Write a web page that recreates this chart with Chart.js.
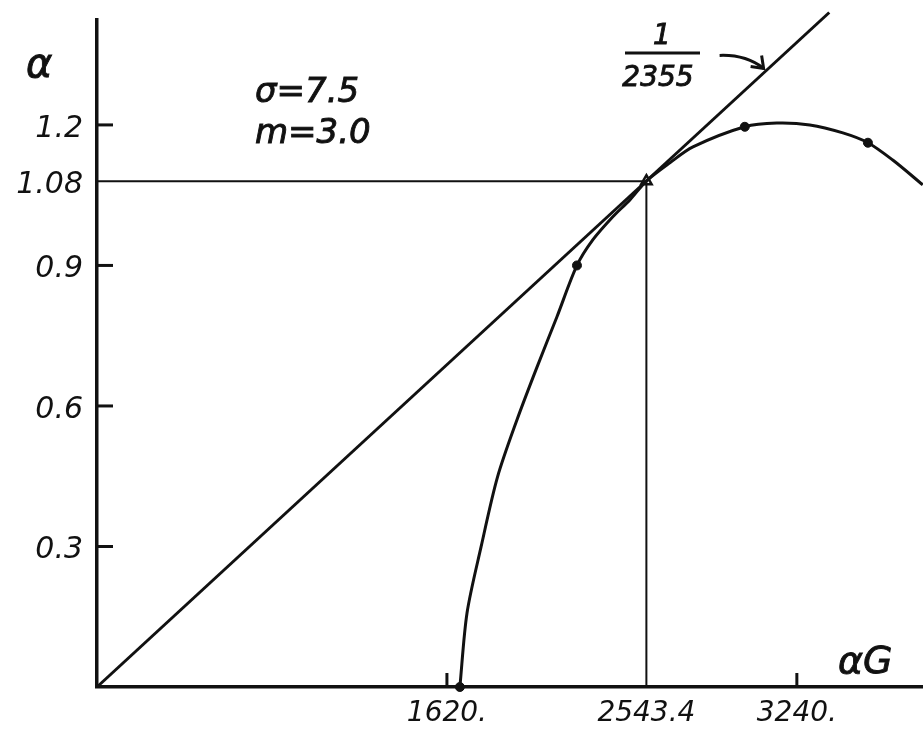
<!DOCTYPE html>
<html>
<head>
<meta charset="utf-8">
<script src="https://cdn.jsdelivr.net/npm/chart.js@4"></script>
<style>
  body { margin: 0; background: #fff; }
  #wrap { width: 923px; height: 729px; }
</style>
</head>
<body>
<div id="wrap"><canvas id="chart" width="923" height="729"></canvas></div>
<script>
// curve alpha vs alphaG
const curveX = [1680, 1713, 1778, 1854, 1944, 2037, 2129, 2222, 2296, 2388, 2467, 2543.4, 2652, 2759, 2999, 3147, 3300, 3453, 3569, 3684, 3823]
const curveY = [0, 0.158, 0.299, 0.448, 0.570, 0.683, 0.790, 0.9, 0.955, 1.004, 1.040, 1.08, 1.119, 1.153, 1.196, 1.204, 1.200, 1.183, 1.162, 1.125, 1.072]
// the marked points on the curve
const dotX = [1680, 2222, 2999, 3569]
const dotY = [0, 0.9, 1.196, 1.162]
// tangent line 1/2355 through the origin
const lineX = [0, 3390]
const lineY = [0, 1.44]
// tangent point
const tanX = 2543.4
const tanY = 1.08

const yTicks = [0.3, 0.6, 0.9, 1.08, 1.2]
const yTickLabels = ['0.3', '0.6', '0.9', '1.08', '1.2']
const yMarks = [0.3, 0.6, 0.9, 1.2]
const xTicks = [1620, 2543.4, 3240]
const xTickLabels = ['1620.', '2543.4', '3240.']
const xMarks = [1620, 3240]

const ink = '#111'

function pts(xs, ys) {
    return xs.map((x, i) => ({x: x, y: ys[i]}))
}

// pen-like text: fill plus a thin stroke
function pen(c, txt, x, y) {
    c.fillText(txt, x, y)
    c.lineWidth = 0.9
    c.strokeText(txt, x, y)
}

const notes = {
    id: 'notes',
    afterDraw(chart) {
        const c = chart.ctx
        const xs = chart.scales.x, ys = chart.scales.y
        c.save()
        c.strokeStyle = ink
        c.fillStyle = ink
        // inward tick marks
        c.lineWidth = 3
        yMarks.forEach(v => {
            const py = ys.getPixelForValue(v)
            c.beginPath(); c.moveTo(xs.left, py); c.lineTo(xs.left + 16, py); c.stroke()
        })
        xMarks.forEach(v => {
            const px = xs.getPixelForValue(v)
            c.beginPath(); c.moveTo(px, ys.bottom); c.lineTo(px, ys.bottom - 14); c.stroke()
        })

        // axis titles
        c.textBaseline = 'alphabetic'
        c.textAlign = 'left'
        c.font = 'italic 40px "DejaVu Sans"'
        pen(c, 'α', 26, 77)
        c.font = 'italic 38px "DejaVu Sans"'
        pen(c, 'αG', 838, 673)

        // parameters
        c.font = 'italic 34px "DejaVu Sans"'
        pen(c, 'σ=7.5', 255, 102)
        pen(c, 'm=3.0', 255, 143)

        // slope label 1/2355
        c.textAlign = 'center'
        c.font = 'italic 28px "DejaVu Sans"'
        pen(c, '1', 662, 44)
        pen(c, '2355', 658, 86)
        c.lineWidth = 3
        c.beginPath(); c.moveTo(625, 53); c.lineTo(700, 53); c.stroke()

        // arrow to the tangent line
        const tx = xs.getPixelForValue(3100) - 3
        const ty = ys.getPixelForValue(3100 / 2355) - 2
        c.lineWidth = 3
        c.beginPath()
        c.moveTo(tx - 44, ty - 13)
        c.quadraticCurveTo(tx - 18, ty - 14, tx, ty)
        c.stroke()
        c.beginPath()
        c.moveTo(tx - 13, ty - 2)
        c.lineTo(tx, ty)
        c.lineTo(tx - 2, ty - 13)
        c.stroke()
        c.restore()
    }
}

var ctx = document.getElementById('chart').getContext('2d')

var myChart = new Chart(ctx, {
    type: 'scatter',
    data: {
        datasets: [
            {
                label: 'tangent',
                data: pts(lineX, lineY),
                showLine: true,
                borderColor: ink,
                borderWidth: 3,
                pointRadius: 0,
                clip: false
            },
            {
                label: 'guide',
                data: [{x: 0, y: tanY}, {x: tanX, y: tanY}, {x: tanX, y: 0}],
                showLine: true,
                borderColor: ink,
                borderWidth: 2,
                pointRadius: 0
            },
            {
                label: 'curve',
                data: pts(curveX, curveY),
                showLine: true,
                tension: 0.3,
                borderColor: ink,
                borderWidth: 3,
                pointRadius: 0,
                clip: false
            },
            {
                label: 'dots',
                data: pts(dotX, dotY),
                showLine: false,
                pointRadius: 4.5,
                backgroundColor: ink,
                borderColor: ink,
                clip: false
            },
            {
                label: 'point',
                data: [{x: tanX, y: tanY}],
                showLine: false,
                pointStyle: 'triangle',
                pointRadius: 6,
                borderWidth: 2.5,
                borderColor: ink,
                backgroundColor: 'rgba(255,255,255,0)'
            }
        ]
    },
    options: {
        responsive: false,
        animation: false,
        layout: { autoPadding: false, padding: { top: 20, right: 0, left: 0, bottom: 0 } },
        plugins: { legend: { display: false }, tooltip: { enabled: false } },
        scales: {
            x: {
                type: 'linear',
                min: 0,
                max: 3824,
                afterFit: s => { s.height = 42; s.paddingLeft = 0; s.paddingRight = 0 },
                afterBuildTicks: s => { s.ticks = xTicks.map(v => ({value: v})) },
                grid: { display: false, drawTicks: false },
                border: { display: true, color: ink, width: 3.5 },
                ticks: {
                    color: ink,
                    font: { family: 'DejaVu Sans', style: 'italic', size: 28 },
                    padding: 10,
                    maxRotation: 0,
                    autoSkip: false,
                    callback: (v) => xTickLabels[xTicks.indexOf(v)]
                }
            },
            y: {
                type: 'linear',
                min: 0,
                max: 1.424,
                afterFit: s => { s.width = 97; s.paddingTop = 0; s.paddingBottom = 0 },
                afterBuildTicks: s => { s.ticks = yTicks.map(v => ({value: v})) },
                grid: { display: false, drawTicks: false },
                border: { display: true, color: ink, width: 3.5 },
                ticks: {
                    color: ink,
                    font: { family: 'DejaVu Sans', style: 'italic', size: 30 },
                    padding: 14,
                    labelOffset: 4,
                    autoSkip: false,
                    callback: (v) => yTickLabels[yTicks.indexOf(v)]
                }
            }
        }
    },
    plugins: [notes]
})
</script>
</body>
</html>
